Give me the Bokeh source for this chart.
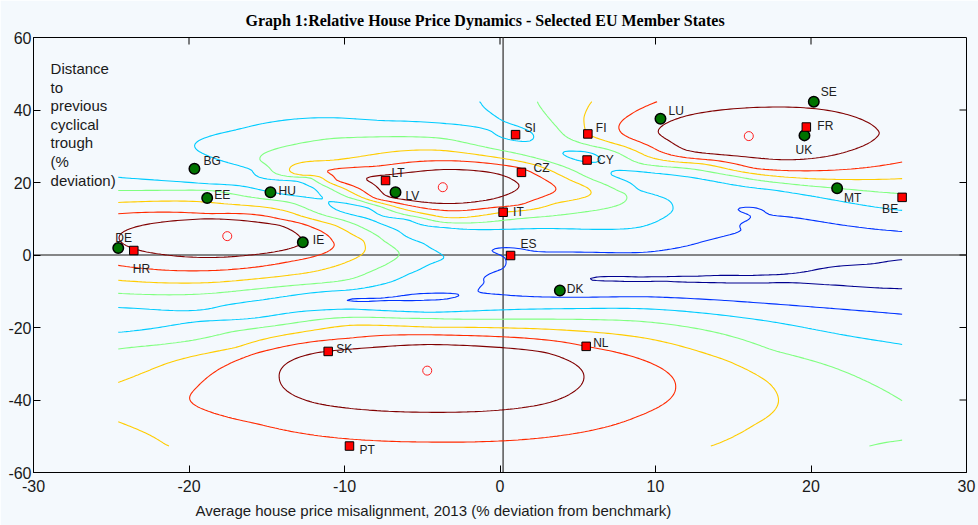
import numpy as np
import contourpy
from bokeh.plotting import figure
from bokeh.models import Range1d, Span, Label, ColumnDataSource, FixedTicker, Title
from bokeh.embed import file_html
from bokeh.resources import INLINE
from bokeh.core.properties import value

# ---------------------------------------------------------------- data
x_ticks = [-30, -20, -10, 0, 10, 20, 30]
y_ticks = [-60, -40, -20, 0, 20, 40, 60]

green_names = ["BG", "EE", "HU", "DE", "IE", "LV", "LU", "SE", "UK", "MT", "DK"]
green_x = [-19.65, -18.83, -14.76, -24.55, -12.68, -6.72, 10.32, 20.18, 19.58, 21.68, 3.85]
green_y = [23.8, 15.7, 17.3, 1.9, 3.5, 17.3, 37.6, 42.3, 33.0, 18.4, -9.8]

red_names = ["HR", "LT", "SI", "CZ", "FI", "CY", "IT", "ES", "FR", "BE", "SK", "NL", "PT"]
red_x = [-23.55, -7.36, 1.0, 1.38, 5.65, 5.6, 0.2, 0.68, 19.7, 25.86, -11.05, 5.54, -9.68]
red_y = [1.24, 20.55, 33.2, 22.8, 33.4, 26.2, 11.8, -0.14, 35.3, 15.9, -26.6, -25.2, -52.7]

centre_x = [-17.54, -3.68, 16.0, -4.68]
centre_y = [5.2, 18.7, 32.8, -31.9]

zero_line_x = 0.2
zero_line_y = 0.0

title_text = "Graph 1:Relative House Price Dynamics - Selected EU Member States"
x_title = "Average house price misalignment, 2013 (% deviation from benchmark)"
y_title = "Distance\nto\nprevious\ncyclical\ntrough\n(%\ndeviation)"

contour_levels = [1, 2, 3, 4, 5, 6, 7]

cross7_x = [-24.5, -12.7, -18.65, -18.65, -23.0, -14.2, -23.0, -14.2,
            -8.3, 1.2, -3.6, -3.6, -7.1, 0.0, -7.1, 0.0,
            10.2, 24.4, 17.3, 17.3, 12.0, 22.6, 12.0, 22.6,
            -4.6, -4.6, -14.2, 5.4, -11.7, 2.9, -11.7, 2.9]
cross7_y = [4.8, 3.6, 10.0, -0.7, 8.2, 8.2, 1.1, 1.1,
            20.0, 19.5, 23.6, 14.2, 22.2, 22.2, 16.0, 16.0,
            33.6, 33.6, 26.5, 40.8, 38.4, 38.4, 28.9, 28.9,
            -24.7, -43.4, -33.8, -33.8, -26.9, -26.9, -41.0, -41.0]
cross6_x = [-10.8, -18.65, -18.65, -24.5, -24.5, -14.0, -12.0, -13.5,
            -10.5, 3.6, -3.6, -3.6, -8.0, 1.38, -8.0, 1.2,
            9.55, 16.4, 26.0, 7.7, 10.1, 8.3, 12.5,
            -4.6, -9.6, -19.5, 11.3, -4.6, 9.0, 5.54, -15.6, -15.6, 9.8]
cross6_y = [4.0, 11.4, -4.3, 11.4, -2.9, 9.8, 7.5, -1.8,
            20.6, 18.3, 26.0, 12.3, 24.5, 23.9, 15.6, 13.8,
            30.2, 23.9, 25.8, 34.3, 42.3, 38.5, 26.6,
            -22.0, -22.9, -36.5, -36.3, -51.6, -44.3, -25.2, -27.0, -46.6, -30.0]
cross5_x = [-8.8, -18.65, -18.65, -24.5, -24.5, -9.6, -13.5, -10.5,
            -12.7, 5.6, -3.6, -3.6, 0.2, -10.9, -9.5, -6.5, 3.5,
            5.9, 5.4, 5.65, 9.5, 12.9, 19.8, 26.0,
            -4.5, -9.6, 9.0, 14.5, 17.2, 17.9, 16.3, 13.7, -24.5, -17.0, -24.5, -21.4]
cross5_y = [4.0, 14.5, -7.6, 14.5, -7.0, -1.5, 11.8, 8.0,
            22.0, 18.6, 28.8, 10.4, 11.8, 26.1, 17.2, 13.0, 14.2,
            42.3, 37.9, 33.4, 27.2, 25.2, 21.1, 21.1,
            -19.9, -19.4, -22.7, -29.0, -35.0, -40.7, -47.0, -52.5, -35.1, -25.5, -46.1, -52.5]
cross4_x = [-6.5, -18.65, -24.5, -18.65, -24.5, -9.6, -13.5, -10.0, -7.5, -7.5,
            -15.4, 8.0, -3.6, -3.6, -10.9, -12.5, -9.0, -6.0, 3.8,
            2.4, 3.5, 6.0, 9.3, 15.0, 21.68, 25.9,
            -4.5, -9.6, 9.0, 17.6, 26.0, 26.0, -24.5, -17.0]
cross4_y = [0.7, 17.8, 17.8, -10.6, -10.6, -6.6, 14.5, 9.5, 4.0, -3.0,
            26.0, 17.0, 32.1, 9.0, 32.1, 21.5, 15.0, 11.0, 11.0,
            42.3, 36.0, 30.0, 25.0, 21.8, 18.4, 16.9,
            -17.5, -17.2, -18.3, -26.3, -40.6, -51.0, -25.9, -21.0]
cross3_x = [-3.6, -24.5, -18.65, -11.4, -8.5, -6.0, -4.5, -24.5, -18.65, -9.6, -6.0, -4.5,
            -19.4, -17.0, -12.6, -7.7, -3.6, -0.5, 1.5, 4.5, 7.2, 9.0, 11.1, 9.0, 2.5,
            -3.6, -6.0, -8.5, -12.0, -16.0,
            -1.3, 1.3, 5.6, 9.0, 17.6, 25.9,
            -4.5, -9.6, 9.0, 17.6, -24.5, -17.0, 26.0]
cross3_y = [-0.7, 21.4, 19.6, 15.9, 10.0, 5.0, 2.0, -14.5, -14.8, -9.6, -5.5, -2.5,
            28.7, 34.5, 37.7, 37.1, 36.3, 34.0, 31.3, 26.8, 22.0, 17.8, 12.3, 7.7, 7.3,
            7.6, 9.8, 13.0, 18.5, 23.5,
            42.3, 35.3, 28.4, 23.0, 17.9, 12.3,
            -15.8, -14.9, -14.8, -18.5, -21.3, -17.8, -24.8]
cross2_x = [-8.8, -4.5, -1.0, 0.15, 0.25, -0.55, 2.5, 5.0, 9.0, 13.3, 15.5, 15.9,
            15.3, 17.6, 21.5, 25.8, -9.9, -8.8, -4.5, 0.0, 9.0, 17.6, 26.0]
cross2_y = [-12.0, -10.6, -7.5, -3.8, -0.6, 1.2, 0.9, 0.8, 0.7, 4.0, 6.8, 9.5,
            12.8, 10.9, 8.6, 6.5, -12.5, -12.9, -12.4, -10.9, -11.5, -13.5, -16.4]
cross1_x = [6.0, 9.0, 12.5, 15.9, 19.8, 24.0, 25.8, 9.0, 12.5, 15.9, 21.9, 25.8]
cross1_y = [-7.0, -6.1, -5.9, -5.7, -4.5, -2.4, -1.3, -7.3, -7.5, -7.7, -8.4, -9.3]

# surface values read between the contours (peaks, gaps, edges)
soft_x = [-18.6, -3.55, 17.3, -4.4,
          1.3, 5.6, 9.0, 12.5, -16.0, -12.0, -8.5, -6.0, -3.6,
          -8.8, -4.5, 2.0, 0.0, 13.2, 16.6, 20.0,
          9.0, 12.5, 15.9, 22.0, 25.8,
          26.0, 26.0, 26.0, 26.0, 14.0, 22.0, 0.5, 4.1, 8.0, -1.5, -3.6, -9.0, -18.0,
          -24.5, -24.5, -24.5, -17.0, -24.5, -24.5, -24.3, 25.8, 26.0, 26.0, 26.0, 26.0]
soft_y = [4.6, 19.1, 33.6, -34.0,
          33.4, 26.7, 20.4, 16.5, 21.0, 17.3, 11.5, 7.4, 3.5,
          -12.45, -11.5, -2.0, -7.3, 7.5, 8.5, 3.0,
          -6.7, -6.7, -6.7, -5.8, -5.3,
          9.5, 14.6, 33.6, 41.0, 42.3, 42.3, 42.3, 42.3, 42.3, 38.5, 42.0, 41.0, 40.5,
          40.0, 28.0, -18.0, -16.0, -30.5, -40.5, -52.3, -52.3, -32.0, -12.8, 2.6, -20.6]
soft_value = [7.7, 7.6, 7.7, 7.7,
              2.8, 2.8, 2.75, 2.6, 2.8, 2.85, 2.8, 2.8, 2.7,
              1.95, 1.85, 1.75, 1.6, 2.25, 1.85, 1.5,
              0.93, 0.9, 0.88, 0.8, 0.75,
              2.5, 3.5, 6.6, 6.4, 6.6, 6.7, 3.5, 4.5, 5.5, 2.85, 2.85, 2.8, 2.65,
              2.6, 2.75, 2.6, 2.6, 4.5, 5.4, 4.5, 3.85, 3.5, 1.5, 1.5, 2.5]

# ---------------------------------------------------------------- surface (thin-plate spline through the readings)
obs_x, obs_y, obs_v = [], [], []
for lev, xs_, ys_ in ((7, cross7_x, cross7_y), (6, cross6_x, cross6_y), (5, cross5_x, cross5_y),
                      (4, cross4_x, cross4_y), (3, cross3_x, cross3_y), (2, cross2_x, cross2_y),
                      (1, cross1_x, cross1_y)):
    obs_x += xs_
    obs_y += ys_
    obs_v += [lev] * len(xs_)
obs_x = np.array(obs_x + soft_x, float)
obs_y = np.array(obs_y + soft_y, float)
obs_v = np.array(obs_v + soft_value, float)


def tps_kernel(r2):
    return np.where(r2 > 0, 0.5 * r2 * np.log(np.maximum(r2, 1e-12)), 0.0)


n = obs_x.size
K = tps_kernel((obs_x[:, None] - obs_x[None, :]) ** 2 + (obs_y[:, None] - obs_y[None, :]) ** 2)
Pm = np.column_stack([np.ones(n), obs_x, obs_y])
A = np.zeros((n + 3, n + 3))
A[:n, :n] = K + 0.05 * np.eye(n)
A[:n, n:] = Pm
A[n:, :n] = Pm.T
sol = np.linalg.solve(A, np.concatenate([obs_v, np.zeros(3)]))
w_tps, a_tps = sol[:n], sol[n:]


def surface(X, Y):
    X = np.asarray(X, float).ravel()
    Y = np.asarray(Y, float).ravel()
    out = np.empty(X.size)
    for s in range(0, X.size, 4000):
        xx, yy = X[s:s + 4000], Y[s:s + 4000]
        r2 = (xx[:, None] - obs_x[None, :]) ** 2 + (yy[:, None] - obs_y[None, :]) ** 2
        out[s:s + 4000] = tps_kernel(r2) @ w_tps + a_tps[0] + a_tps[1] * xx + a_tps[2] * yy
    return out


# ---------------------------------------------------------------- figure
BG = "#F4F9FD"
SANS = "Liberation Sans"
p = figure(width=978, height=525, x_range=Range1d(-30, 30), y_range=Range1d(-60, 60),
           output_backend="svg", toolbar_location=None, title=title_text,
           min_border_left=33, min_border_right=12, min_border_top=37, min_border_bottom=53,
           background_fill_color=BG, border_fill_color=BG,
           outline_line_color="black", outline_line_width=1)
p.xgrid.visible = False
p.ygrid.visible = False

p.title.text_font = "Liberation Serif"
p.title.text_font_style = "bold"
p.title.text_font_size = "16px"
p.title.text_color = "black"
p.title.align = "left"
p.title.offset = 212
p.title.standoff = 17

for axis, ticks in ((p.xaxis, x_ticks), (p.yaxis, y_ticks)):
    axis.ticker = FixedTicker(ticks=ticks)
    axis.major_label_overrides = {t: str(t) for t in ticks}
    axis.major_tick_in = 7
    axis.major_tick_out = 0
    axis.minor_tick_in = 0
    axis.minor_tick_out = 0
    axis.axis_line_color = "black"
    axis.major_tick_line_color = "black"
    axis.major_label_text_font = SANS
    axis.major_label_text_font_size = "16px"
    axis.major_label_text_color = "#1a1a1a"
p.xaxis.major_label_standoff = 7
p.yaxis.major_label_standoff = 2

p.add_layout(Title(text=x_title, align="left", offset=162, standoff=11,
                   text_font=SANS, text_font_style="normal", text_font_size="15px",
                   text_color="#1a1a1a"), "below")

# contours
all_x = green_x + red_x
all_y = green_y + red_y
gx = np.linspace(min(all_x), max(all_x), 201)
gy = np.linspace(min(all_y), max(all_y), 221)
GX, GY = np.meshgrid(gx, gy)
Z = surface(GX, GY).reshape(GX.shape)
gen = contourpy.contour_generator(gx, gy, Z)
level_colors = ["#00008F", "#0033FF", "#00CCFF", "#80FF80", "#FFCC00", "#FF2A00", "#800000"]
for lev, col in zip(contour_levels, level_colors):
    segs = [s for s in gen.lines(lev) if len(s) > 2]
    if segs:
        p.multi_line([s[:, 0].tolist() for s in segs], [s[:, 1].tolist() for s in segs],
                     line_color=col, line_width=1.1)

p.add_layout(Span(location=zero_line_x, dimension="height", line_color="#5f5f5f",
                  line_width=1.6, level="underlay"))
p.add_layout(Span(location=zero_line_y, dimension="width", line_color="#5f5f5f",
                  line_width=1.6, level="underlay"))

# inward ticks on the top and right edges of the box
p.scatter(x_ticks[1:-1], [p.y_range.end] * (len(x_ticks) - 2), marker="dash", size=14,
          angle=np.pi / 2, line_color="black", line_width=1)
p.scatter([p.x_range.end] * (len(y_ticks) - 2), y_ticks[1:-1], marker="dash", size=14,
          line_color="black", line_width=1)

# cluster centres
p.scatter(centre_x, centre_y, marker="circle", size=9, fill_color=None,
          line_color="#FF2020", line_width=1)

# countries
label_offsets = {
    "BG": (9, -8), "EE": (7, -3), "HU": (8, -1), "DE": (-3, -10), "IE": (10, -2),
    "LV": (10, 4), "LU": (8, -8), "SE": (7, -10), "UK": (-9, 15), "MT": (7, 10),
    "DK": (7, -2), "HR": (-1, 18), "LT": (6, -8), "SI": (9, -7), "CZ": (12, -4),
    "FI": (8, -6), "CY": (10, 0), "IT": (10, 0), "ES": (10, -12), "FR": (11, -1),
    "BE": (-20, 12), "SK": (8, -2), "NL": (7, -3), "PT": (10, 4),
}
p.scatter(green_x, green_y, marker="circle", size=10.5, fill_color="#007300",
          line_color="black", line_width=1.5)
p.scatter(red_x, red_y, marker="square", size=8.5, fill_color="#FF0000",
          line_color="black", line_width=1)

names = green_names + red_names
lab = ColumnDataSource(dict(x=all_x, y=all_y, t=names,
                            xo=[label_offsets[nm][0] for nm in names],
                            yo=[label_offsets[nm][1] for nm in names]))
p.text(x="x", y="y", text="t", x_offset="xo", y_offset="yo", source=lab,
       text_font=value(SANS), text_font_size="12px", text_color="#202020",
       text_align="left", text_baseline="middle")

p.add_layout(Label(x=-28.9, y=53.7, text=y_title,
                   text_font=SANS, text_font_size="15px", text_align="left",
                   text_baseline="top", text_line_height=1.09, text_color="#1a1a1a"))

open("out.html", "w").write(file_html(p, INLINE))
